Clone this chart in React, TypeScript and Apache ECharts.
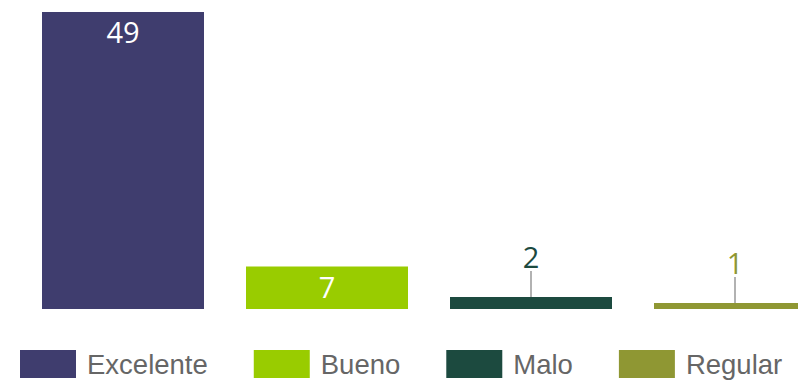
import React, { useEffect, useRef } from "react";
import * as echarts from "echarts";

const categories = ["Excelente", "Bueno", "Malo", "Regular"];
const values = [49, 7, 2, 1];
const colors = ["#3f3d6e", "#99cc00", "#1c4a3f", "#8f9733"];
const insideLabel = [true, true, false, false];

export default function App() {
  const ref = useRef<HTMLDivElement>(null);
  useEffect(() => {
    if (!ref.current) return;
    const chart = echarts.init(ref.current, null, { renderer: "svg" });
    const series = categories.map((name, i) => ({
      name,
      type: "bar",
      barWidth: 162,
      barGap: "-100%",
      data: values.map((v, j) => (j === i ? v : "-")),
      itemStyle: { color: colors[i] },
      label: insideLabel[i]
        ? {
            show: true,
            position: "insideTop",
            distance: 5,
            color: "#ffffff",
            fontSize: 29,
            fontFamily: "Open Sans",
          }
        : {
            show: true,
            position: "top",
            distance: 4,
            color: colors[i],
            fontSize: 29,
            fontFamily: "Open Sans",
          },
      labelLayout: insideLabel[i] ? undefined : { dy: -22 },
      labelLine: insideLabel[i]
        ? undefined
        : { show: true, lineStyle: { color: "#999999", width: 1.5 } },
    }));
    chart.setOption({
      animation: false,
      grid: { left: 21, top: 12, right: 0, height: 297, containLabel: false },
      xAxis: { type: "category", data: categories, show: false },
      yAxis: { type: "value", min: 0, max: 49, show: false },
      legend: {
        left: 20,
        top: 350,
        padding: 0,
        itemWidth: 56,
        itemHeight: 28,
        itemGap: 46,
        icon: "rect",
        textStyle: {
          color: "#666666",
          fontSize: 27.5,
          fontFamily: "Liberation Sans",
          padding: [0, 0, 0, 6],
        },
        data: categories,
      },
      series,
    });
    return () => chart.dispose();
  }, []);
  return (
    <div style={{ width: 798, height: 380, position: "absolute", left: 0, top: 0, overflow: "hidden" }}>
      <div ref={ref} style={{ width: 837, height: 380 }} />
    </div>
  );
}
